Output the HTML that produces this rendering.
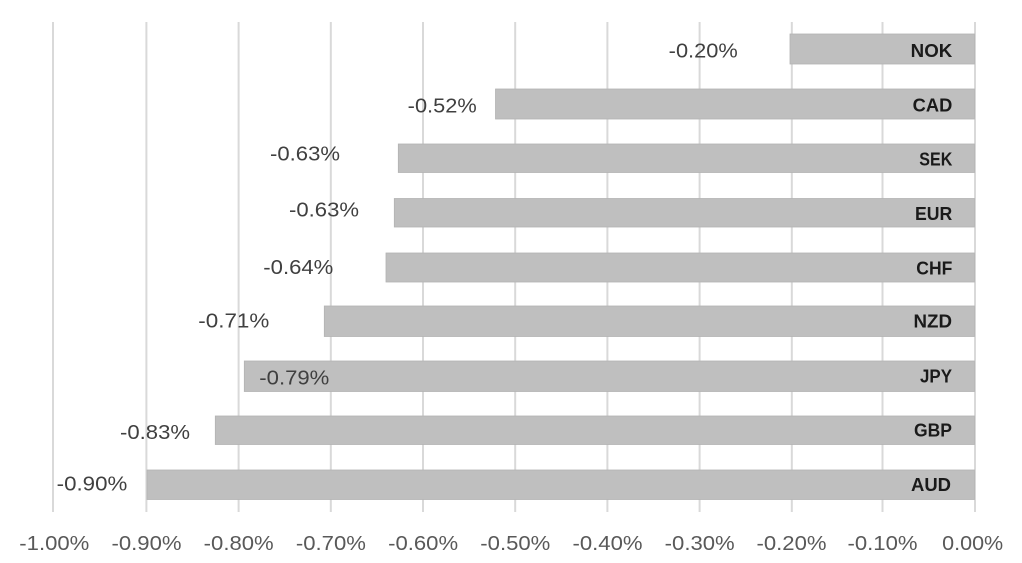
<!DOCTYPE html>
<html>
<head>
<meta charset="utf-8">
<style>
html,body{margin:0;padding:0;background:#fff;}
svg{display:block;}
</style>
</head>
<body>
<svg width="1022" height="563" viewBox="0 0 1022 563" xmlns="http://www.w3.org/2000/svg">
<rect width="1022" height="563" fill="#fff"/>
<g stroke="#d9d9d9" stroke-width="2">
<line x1="53" y1="22" x2="53" y2="512"/>
<line x1="146.4" y1="22" x2="146.4" y2="512"/>
<line x1="238.6" y1="22" x2="238.6" y2="512"/>
<line x1="330.8" y1="22" x2="330.8" y2="512"/>
<line x1="423" y1="22" x2="423" y2="512"/>
<line x1="515.2" y1="22" x2="515.2" y2="512"/>
<line x1="607.4" y1="22" x2="607.4" y2="512"/>
<line x1="699.6" y1="22" x2="699.6" y2="512"/>
<line x1="791.8" y1="22" x2="791.8" y2="512"/>
<line x1="882.5" y1="22" x2="882.5" y2="512"/>
<line x1="975" y1="22" x2="975" y2="512"/>
</g>
<g fill="#bfbfbf" stroke="#b3b3b3" stroke-width="0.8">
<rect x="790" y="34" width="184.5" height="30"/>
<rect x="495.5" y="89" width="479" height="30"/>
<rect x="398.3" y="144" width="576.2" height="28.5"/>
<rect x="394.3" y="198.5" width="580.2" height="28.5"/>
<rect x="386" y="253" width="588.5" height="29"/>
<rect x="324.3" y="306" width="650.2" height="30.5"/>
<rect x="244.3" y="361" width="730.2" height="30.5"/>
<rect x="215.3" y="416" width="759.2" height="28.5"/>
<rect x="147" y="470" width="827.5" height="29.5"/>
</g>
<g font-family="Liberation Sans, Arial, sans-serif" font-size="20" fill="#404040" text-anchor="end">
<text x="737.7" y="57.5" textLength="69" lengthAdjust="spacingAndGlyphs">-0.20%</text>
<text x="476.7" y="112.3" textLength="69" lengthAdjust="spacingAndGlyphs">-0.52%</text>
<text x="340" y="160.5" textLength="70" lengthAdjust="spacingAndGlyphs">-0.63%</text>
<text x="359" y="216.5" textLength="70" lengthAdjust="spacingAndGlyphs">-0.63%</text>
<text x="333.3" y="274" textLength="70" lengthAdjust="spacingAndGlyphs">-0.64%</text>
<text x="269.3" y="327.3" textLength="71" lengthAdjust="spacingAndGlyphs">-0.71%</text>
<text x="329.3" y="384.5" textLength="70" lengthAdjust="spacingAndGlyphs">-0.79%</text>
<text x="190" y="439" textLength="70" lengthAdjust="spacingAndGlyphs">-0.83%</text>
<text x="127.3" y="490.5" textLength="70.6" lengthAdjust="spacingAndGlyphs">-0.90%</text>
</g>
<g font-family="Liberation Sans, Arial, sans-serif" font-size="18" font-weight="bold" fill="#1a1a1a" text-anchor="end">
<text x="952.3" y="57" textLength="41.6" lengthAdjust="spacingAndGlyphs">NOK</text>
<text x="952.3" y="111.5" textLength="39.6" lengthAdjust="spacingAndGlyphs">CAD</text>
<text x="952.3" y="165.5" textLength="33" lengthAdjust="spacingAndGlyphs">SEK</text>
<text x="952.3" y="220" textLength="37.3" lengthAdjust="spacingAndGlyphs">EUR</text>
<text x="952.3" y="274.5" textLength="36" lengthAdjust="spacingAndGlyphs">CHF</text>
<text x="952" y="327.5" textLength="38.5" lengthAdjust="spacingAndGlyphs">NZD</text>
<text x="952" y="382.5" textLength="32" lengthAdjust="spacingAndGlyphs">JPY</text>
<text x="952" y="436.5" textLength="38" lengthAdjust="spacingAndGlyphs">GBP</text>
<text x="951" y="491" textLength="40" lengthAdjust="spacingAndGlyphs">AUD</text>
</g>
<g font-family="Liberation Sans, Arial, sans-serif" font-size="20" fill="#595959" text-anchor="middle">
<text x="54.3" y="550" textLength="70" lengthAdjust="spacingAndGlyphs">-1.00%</text>
<text x="146.5" y="550" textLength="70" lengthAdjust="spacingAndGlyphs">-0.90%</text>
<text x="238.7" y="550" textLength="70" lengthAdjust="spacingAndGlyphs">-0.80%</text>
<text x="330.9" y="550" textLength="70" lengthAdjust="spacingAndGlyphs">-0.70%</text>
<text x="423.1" y="550" textLength="70" lengthAdjust="spacingAndGlyphs">-0.60%</text>
<text x="515.3" y="550" textLength="70" lengthAdjust="spacingAndGlyphs">-0.50%</text>
<text x="607.5" y="550" textLength="70" lengthAdjust="spacingAndGlyphs">-0.40%</text>
<text x="699.7" y="550" textLength="70" lengthAdjust="spacingAndGlyphs">-0.30%</text>
<text x="791.5" y="550" textLength="70" lengthAdjust="spacingAndGlyphs">-0.20%</text>
<text x="882.5" y="550" textLength="70" lengthAdjust="spacingAndGlyphs">-0.10%</text>
<text x="972.7" y="550" textLength="61" lengthAdjust="spacingAndGlyphs">0.00%</text>
</g>
</svg>
</body>
</html>
